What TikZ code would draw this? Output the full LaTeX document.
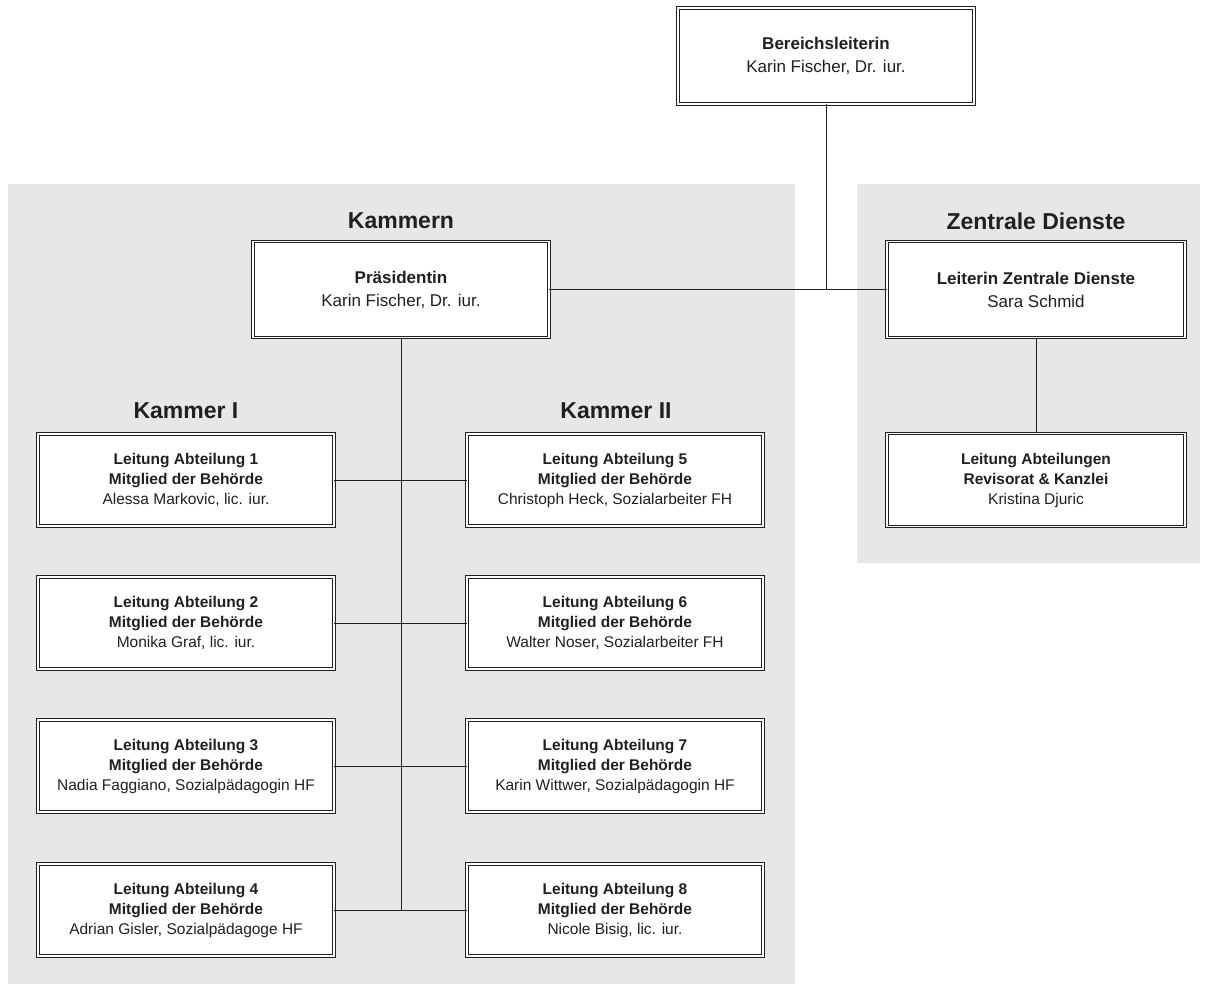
\documentclass[tikz,border=0pt]{standalone}
\usepackage{fontspec}
\setmainfont{Liberation Sans}
\definecolor{panel}{HTML}{E6E7E6}
\definecolor{ink}{HTML}{231F20}
\begin{document}
\begin{tikzpicture}[x=1pt,y=-1pt,
  topbox/.style={draw=ink, double=white, double distance=1.8pt, line width=0.9pt, fill=white,
    minimum width=296pt, minimum height=96pt, align=center, inner sep=0pt,
    font=\fontsize{17}{23}\selectfont, text=ink},
  subbox/.style={draw=ink, double=white, double distance=1.4pt, line width=0.85pt, fill=white,
    minimum width=296pt, minimum height=92pt, align=center, inner sep=0pt,
    font=\fontsize{15.5}{20}\selectfont, text=ink},
  title/.style={font=\fontsize{23}{27}\selectfont\bfseries, text=ink},
  conn/.style={draw=ink, line width=0.9pt}]
\useasboundingbox (0,0) rectangle (1208,994);
\fill[white] (0,0) rectangle (1208,994);
\fill[panel] (8,184) rectangle (795,984);
\fill[panel] (857,184) rectangle (1200,563);

\node[title] (tk) at (401,221) {Kammern};
\node[title] (tz) at (1036,221) {Zentrale Dienste};
\node[title] (t1) at (186,411) {Kammer I};
\node[title] (t2) at (616,411) {Kammer II};

\node[topbox] (bl) at (826,56) {\textbf{Bereichsleiterin}\\Karin Fischer, Dr. iur.};
\node[topbox] (pr) at (401,289.5) {\textbf{Präsidentin}\\Karin Fischer, Dr. iur.};
\node[topbox, minimum width=298pt] (zd) at (1036,289.5) {\textbf{Leiterin Zentrale Dienste}\\Sara Schmid};
\node[subbox, minimum width=298pt, minimum height=93pt] (rk) at (1036,480) {\textbf{Leitung Abteilungen}\\\textbf{Revisorat \& Kanzlei}\\Kristina Djuric};

\node[subbox] (a1) at (186,480) {\textbf{Leitung Abteilung 1}\\\textbf{Mitglied der Behörde}\\Alessa Markovic, lic. iur.};
\node[subbox] (a2) at (186,623) {\textbf{Leitung Abteilung 2}\\\textbf{Mitglied der Behörde}\\Monika Graf, lic. iur.};
\node[subbox] (a3) at (186,766) {\textbf{Leitung Abteilung 3}\\\textbf{Mitglied der Behörde}\\Nadia Faggiano, Sozialpädagogin HF};
\node[subbox] (a4) at (186,910) {\textbf{Leitung Abteilung 4}\\\textbf{Mitglied der Behörde}\\Adrian Gisler, Sozialpädagoge HF};
\node[subbox] (a5) at (615,480) {\textbf{Leitung Abteilung 5}\\\textbf{Mitglied der Behörde}\\Christoph Heck, Sozialarbeiter FH};
\node[subbox] (a6) at (615,623) {\textbf{Leitung Abteilung 6}\\\textbf{Mitglied der Behörde}\\Walter Noser, Sozialarbeiter FH};
\node[subbox] (a7) at (615,766) {\textbf{Leitung Abteilung 7}\\\textbf{Mitglied der Behörde}\\Karin Wittwer, Sozialpädagogin HF};
\node[subbox] (a8) at (615,910) {\textbf{Leitung Abteilung 8}\\\textbf{Mitglied der Behörde}\\Nicole Bisig, lic. iur.};

\coordinate (j) at (826,289.5);
\coordinate (sp) at (401,910);
\draw[conn] (bl.south) -- (j);
\draw[conn] (pr.east) -- (zd.west);
\draw[conn] (zd.south) -- (rk.north);
\draw[conn] (pr.south) -- (sp);
\foreach \l/\r in {a1/a5,a2/a6,a3/a7,a4/a8}{
  \draw[conn] (\l.east) -- (\r.west);
}
\end{tikzpicture}
\end{document}
